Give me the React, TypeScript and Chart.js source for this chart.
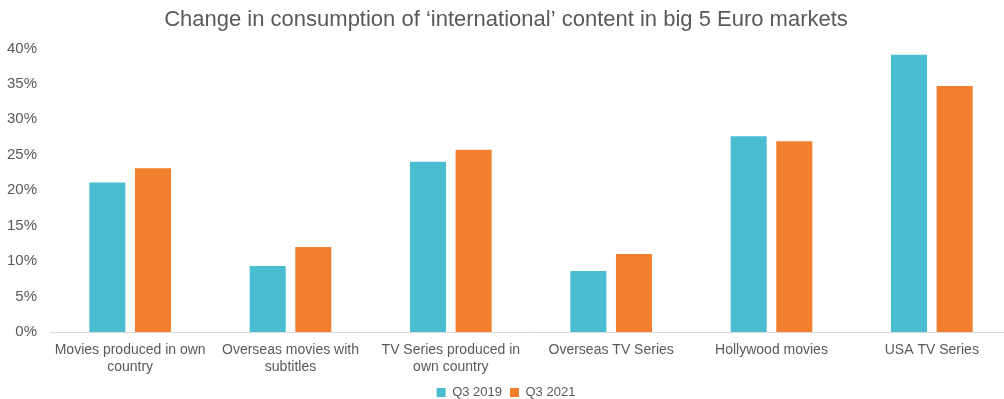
import React, { useEffect, useRef } from "react";
import { Chart, registerables } from "chart.js";

Chart.register(...registerables);

const categories: (string | string[])[] = [
  ["Movies produced in own", "country"],
  ["Overseas movies with", "subtitles"],
  ["TV Series produced in", "own country"],
  "Overseas TV Series",
  "Hollywood movies",
  "USA TV Series",
];
const seriesNames = ["Q3 2019", "Q3 2021"];
const q3_2019 = [21.1, 9.3, 24.0, 8.6, 27.6, 39.1];
const q3_2021 = [23.1, 12.0, 25.7, 11.0, 26.9, 34.7];
const yTicks = [0, 5, 10, 15, 20, 25, 30, 35, 40];

const CYAN = "#4bbdd1";
const ORANGE = "#f17f2e";
const TEXT = "#595959";
const FONT = "'Liberation Sans', Arial, sans-serif";

export default function App() {
  const ref = useRef<HTMLCanvasElement | null>(null);
  useEffect(() => {
    if (!ref.current) return;
    const chart = new Chart(ref.current, {
      type: "bar",
      data: {
        labels: categories,
        datasets: [
          {
            label: seriesNames[0],
            data: q3_2019,
            backgroundColor: CYAN,
            categoryPercentage: 0.569,
            barPercentage: 0.79,
          },
          {
            label: seriesNames[1],
            data: q3_2021,
            backgroundColor: ORANGE,
            categoryPercentage: 0.569,
            barPercentage: 0.79,
          },
        ],
      },
      options: {
        responsive: false,
        animation: false,
        layout: { padding: { left: 0, right: 0, top: 0, bottom: -10 } },
        plugins: {
          title: {
            display: true,
            text: "Change in consumption of \u2018international\u2019 content in big 5 Euro markets",
            color: TEXT,
            font: { family: FONT, size: 22, weight: "normal", lineHeight: 1.2 },
            padding: { top: 7, bottom: 15 },
          },
          legend: {
            position: "bottom",
            labels: {
              color: TEXT,
              font: { family: FONT, size: 13 },
              boxWidth: 9,
              boxHeight: 9,
              padding: 8,
            },
          },
          tooltip: { enabled: false },
        },
        scales: {
          x: {
            afterFit: (s: any) => {
              s.height = 46;
            },
            grid: { display: false, drawTicks: false },
            border: { display: true, color: "#d9d9d9", width: 1 },
            ticks: {
              color: TEXT,
              font: { family: FONT, size: 14, lineHeight: 1.25 },
              padding: 9,
              maxRotation: 0,
              autoSkip: false,
            },
          },
          y: {
            min: 0,
            max: 40,
            afterFit: (s: any) => {
              s.width = 50;
            },
            afterBuildTicks: (s: any) => {
              s.ticks = yTicks.map((v) => ({ value: v }));
            },
            grid: { display: false, drawTicks: false },
            border: { display: false },
            ticks: {
              color: TEXT,
              font: { family: FONT, size: 15 },
              padding: 13,
              callback: (v: any) => v + "%",
            },
          },
        },
      },
    });
    return () => chart.destroy();
  }, []);
  return (
    <div
      style={{
        position: "fixed",
        left: 0,
        top: 0,
        width: 1004,
        height: 399,
        overflow: "hidden",
        background: "#fff",
      }}
    >
      <canvas ref={ref} width={1012} height={399} style={{ display: "block" }} />
    </div>
  );
}
